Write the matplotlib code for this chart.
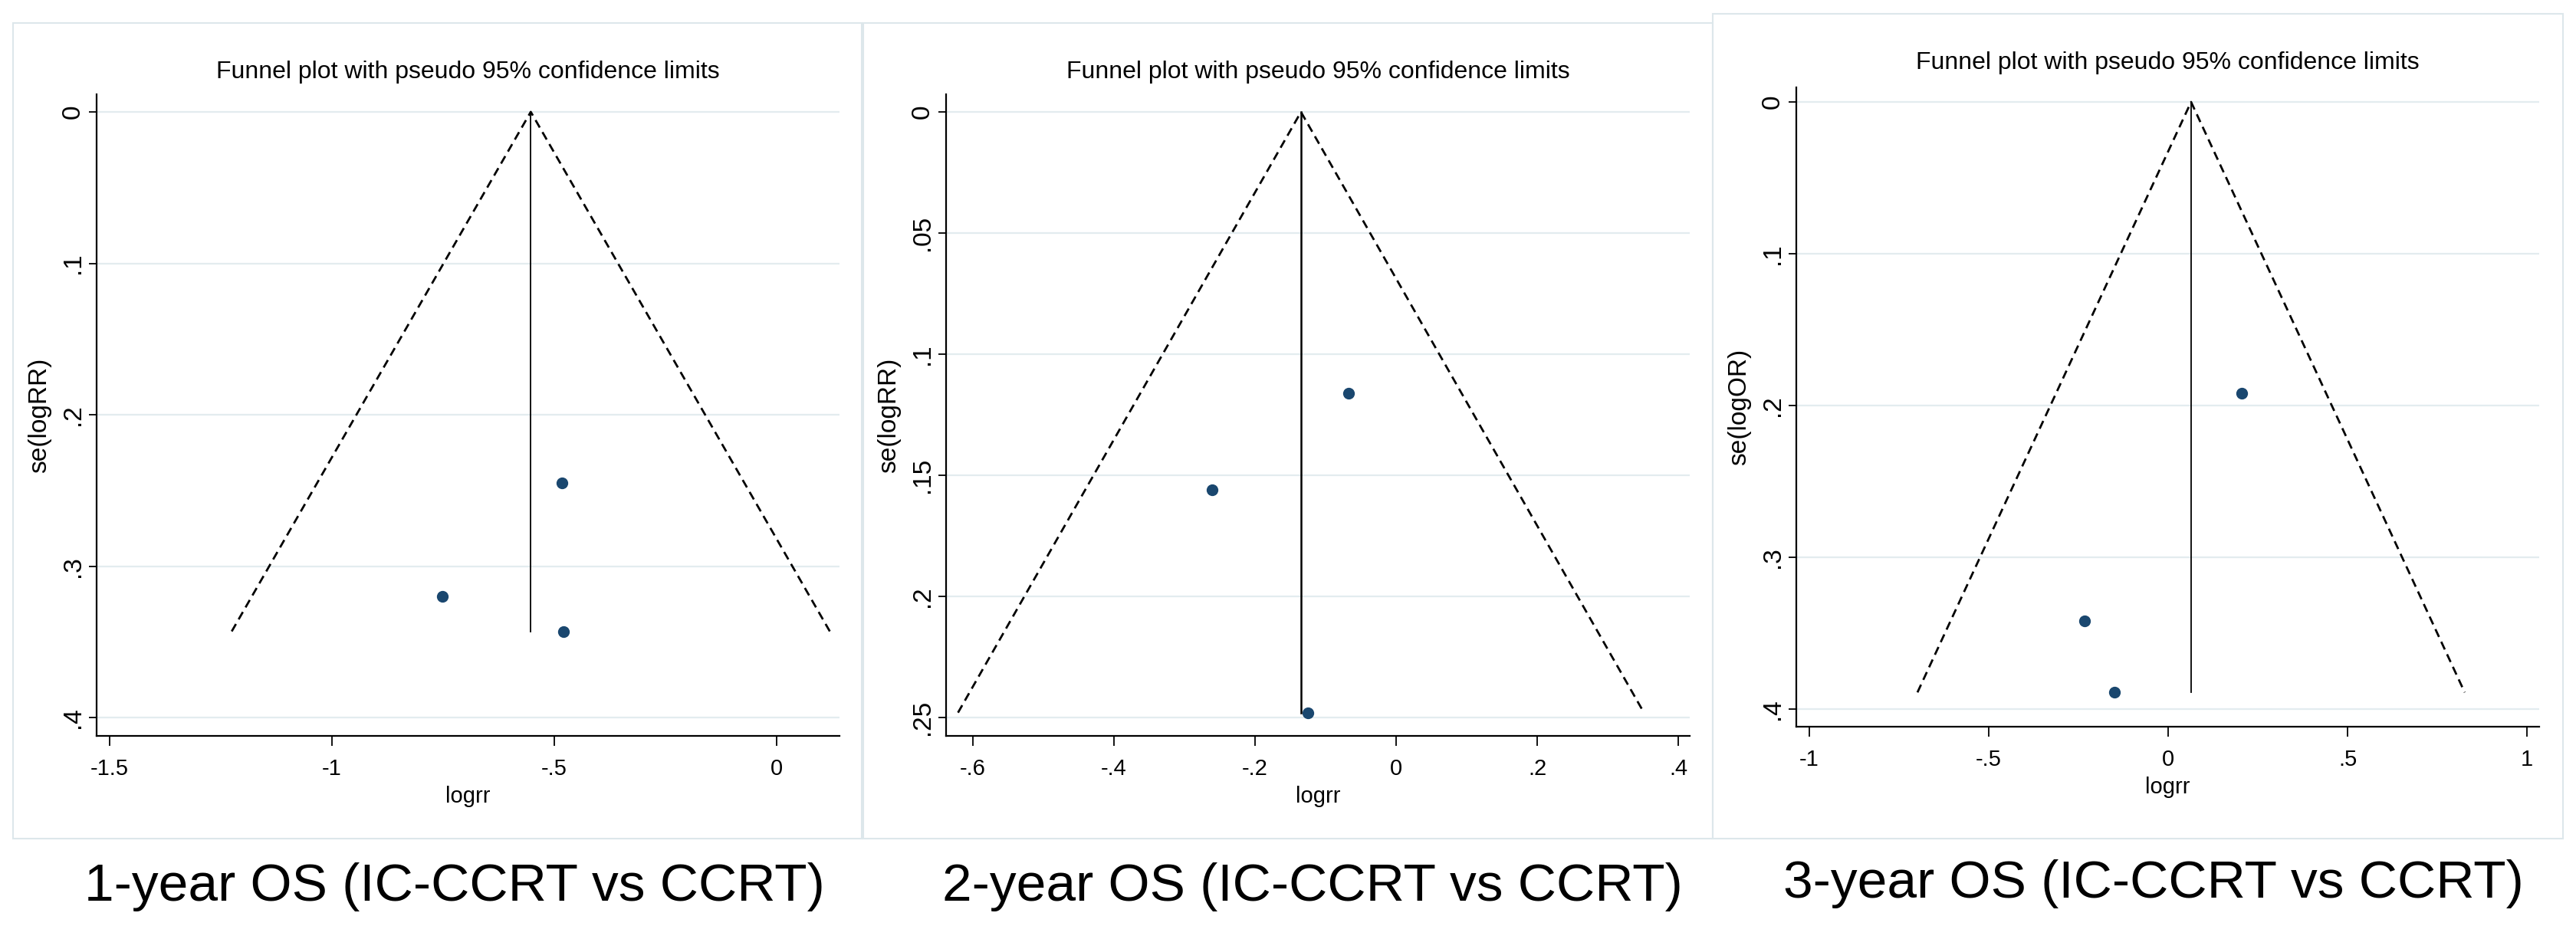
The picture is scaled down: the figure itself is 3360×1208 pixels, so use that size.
import matplotlib
matplotlib.use("Agg")
import matplotlib.pyplot as plt
from matplotlib.patches import Rectangle

# study estimates
logrr_1y = [-0.483, -0.752, -0.479]
se_1y = [0.245, 0.320, 0.343]
pooled_1y = -0.553

logrr_2y = [-0.068, -0.261, -0.125]
se_2y = [0.116, 0.156, 0.248]
pooled_2y = -0.135

logrr_3y = [0.205, -0.233, -0.150]
se_3y = [0.192, 0.342, 0.389]
pooled_3y = 0.064

xticks_1y = [-1.5, -1, -0.5, 0]
xlabels_1y = ["-1.5", "-1", "-.5", "0"]
yticks_1y = [0, 0.1, 0.2, 0.3, 0.4]
ylabels_1y = ["0", ".1", ".2", ".3", ".4"]

xticks_2y = [-0.6, -0.4, -0.2, 0, 0.2, 0.4]
xlabels_2y = ["-.6", "-.4", "-.2", "0", ".2", ".4"]
yticks_2y = [0, 0.05, 0.1, 0.15, 0.2, 0.25]
ylabels_2y = ["0", ".05", ".1", ".15", ".2", ".25"]

xticks_3y = [-1, -0.5, 0, 0.5, 1]
xlabels_3y = ["-1", "-.5", "0", ".5", "1"]
yticks_3y = [0, 0.1, 0.2, 0.3, 0.4]
ylabels_3y = ["0", ".1", ".2", ".3", ".4"]

captions = ["1-year OS (IC-CCRT vs CCRT)", "2-year OS (IC-CCRT vs CCRT)",
            "3-year OS (IC-CCRT vs CCRT)"]
ylabel_names = ["se(logRR)", "se(logRR)", "se(logOR)"]

W, H = 3360, 1208
NAVY = "#1a476f"
GRID = "#e3ecef"
BORDER = "#dde7eb"

plt.rcParams["font.family"] = ["Liberation Sans", "DejaVu Sans"]


def fx(px):
    return px / W


def fy(py):
    return 1 - py / H


fig = plt.figure(figsize=(W / 100, H / 100), dpi=100)
fig.patch.set_facecolor("white")

panels = [
    dict(x=logrr_1y, se=se_1y, pooled=pooled_1y, xt=xticks_1y, xl=xlabels_1y,
         yt=yticks_1y, yl=ylabels_1y, box=(126, 1095, 123, 960),
         xlim=(-1.529, 0.141), ylim=(0.412, -0.0116), title_y=94,
         frame=(17, 1124, 30, 1094), cap=(593, 1175), vlw=1.3),
    dict(x=logrr_2y, se=se_2y, pooled=pooled_2y, xt=xticks_2y, xl=xlabels_2y,
         yt=yticks_2y, yl=ylabels_2y, box=(1234, 2204, 123, 960),
         xlim=(-0.638, 0.416), ylim=(0.2576, -0.0073), title_y=94,
         frame=(1126, 2234, 30, 1094), cap=(1712, 1175), vlw=1.8),
    dict(x=logrr_3y, se=se_3y, pooled=pooled_3y, xt=xticks_3y, xl=xlabels_3y,
         yt=yticks_3y, yl=ylabels_3y, box=(2343, 3312, 114, 948),
         xlim=(-1.036, 1.034), ylim=(0.4116, -0.0096), title_y=82,
         frame=(2234, 3343, 18, 1094), cap=(2809, 1171), vlw=1.3),
]

for i, p in enumerate(panels):
    l, r, t, b = p["box"]
    fl, fr, ft, fb = p["frame"]
    fig.add_artist(Rectangle((fx(fl), fy(fb)), fx(fr) - fx(fl), fy(ft) - fy(fb),
                             transform=fig.transFigure, fill=False,
                             edgecolor=BORDER, linewidth=1.5))

    ax = fig.add_axes([fx(l), fy(b), fx(r) - fx(l), fy(t) - fy(b)])
    ax.set_xlim(*p["xlim"])
    ax.set_ylim(*p["ylim"])
    for s in ["top", "right"]:
        ax.spines[s].set_visible(False)
    for s in ["left", "bottom"]:
        ax.spines[s].set_linewidth(1.6)
        ax.spines[s].set_color("black")

    for yv in p["yt"]:
        ax.axhline(yv, color=GRID, linewidth=1.6, zorder=0)

    semax = max(p["se"])
    c = p["pooled"]
    ax.plot([c - 1.96 * semax, c, c + 1.96 * semax], [semax, 0, semax],
            color="black", linewidth=2.0, dashes=(4.0, 2.5), zorder=2)
    ax.plot([c, c], [0, semax], color="black", linewidth=p["vlw"], zorder=2)
    ax.plot(p["x"], p["se"], linestyle="none", marker="o", markersize=10,
            color=NAVY, zorder=3)

    ax.set_xticks(p["xt"])
    ax.set_xticklabels(p["xl"], fontsize=21)
    ax.set_yticks(p["yt"])
    ax.set_yticklabels(p["yl"], rotation=90, va="center", fontsize=24)
    ax.tick_params(axis="x", direction="out", length=9, width=1.3, pad=12)
    ax.tick_params(axis="y", direction="out", length=7, width=1.3, pad=4)

    fig.text(fx((l + r) / 2), fy(p["title_y"]),
             "Funnel plot with pseudo 95% confidence limits",
             fontsize=23, ha="center", va="center")
    fig.text(fx((l + r) / 2), fy(b + 87), "logrr",
             fontsize=21, ha="center", va="baseline")
    fig.text(fx(l - 74), fy((t + b) / 2), ylabel_names[i], fontsize=24,
             rotation=90, ha="center", va="center")

    cx, cy = p["cap"]
    fig.text(fx(cx), fy(cy), captions[i], fontsize=50,
             ha="center", va="baseline")

fig.savefig("out.png", dpi=100, facecolor="white")
